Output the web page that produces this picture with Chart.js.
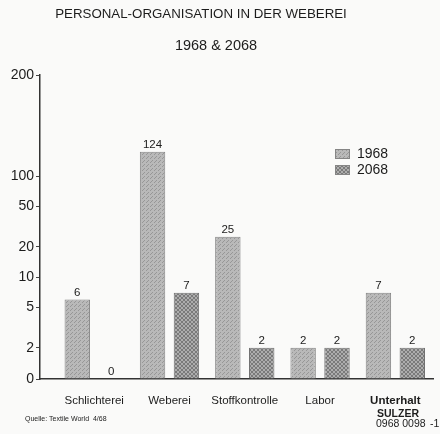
<!DOCTYPE html>
<html lang="de">
<head>
<meta charset="UTF-8">
<title>Personal-Organisation in der Weberei</title>
<script src="https://cdn.jsdelivr.net/npm/chart.js"></script>
<style>
  html, body { margin: 0; padding: 0; background: #fafaf9; }
  #wrap { width: 440px; height: 434px; }
</style>
</head>
<body>
<div id="wrap"><canvas id="personalChart" width="440" height="434"></canvas></div>
<script>
const categories = ['Schlichterei', 'Weberei', 'Stoffkontrolle', 'Labor', 'Unterhalt'];
const staff1968 = [6, 124, 25, 2, 7];
const staff2068 = [0, 7, 2, 2, 2];
const yTicks = [0, 2, 5, 10, 20, 50, 100, 200];

const FONT = '"Liberation Sans", Arial, sans-serif';
const INK = '#1c1c1c';

// y axis: linear 0-2, logarithmic 2-100, linear again above 100 (broken top)
const LOW = 0.31;
const MID = Math.log10(50);
function axisUnits(v) {
    if (v <= 2) return LOW * v / 2;
    if (v <= 100) return LOW + Math.log10(v / 2);
    return LOW + MID + (v - 100) / 100;
}
function axisValue(u) {
    if (u <= LOW) return u / LOW * 2;
    if (u <= LOW + MID) return 2 * Math.pow(10, u - LOW);
    return 100 + (u - LOW - MID) * 100;
}

class BrokenLogScale extends Chart.LinearScale {
    determineDataLimits() {
        this.min = yTicks[0];
        this.max = yTicks[yTicks.length - 1];
    }
    buildTicks() {
        return yTicks.map(value => ({ value }));
    }
    getPixelForValue(value) {
        if (value === null || isNaN(value)) return NaN;
        return this.getPixelForDecimal(axisUnits(value) / axisUnits(this.max));
    }
    getValueForPixel(pixel) {
        return axisValue(this.getDecimalForPixel(pixel) * axisUnits(this.max));
    }
}
BrokenLogScale.id = 'brokenLog';
BrokenLogScale.defaults = {};
Chart.register(BrokenLogScale);

const canvas = document.getElementById('personalChart');
const ctx = canvas.getContext('2d');

// small raster fills for the bars
function makePattern(base, ink, dots) {
    const c = document.createElement('canvas');
    c.width = 4; c.height = 4;
    const g = c.getContext('2d');
    g.fillStyle = base;
    g.fillRect(0, 0, 4, 4);
    g.fillStyle = ink;
    dots.forEach(([x, y]) => g.fillRect(x, y, 1, 1));
    return ctx.createPattern(c, 'repeat');
}
const fill1968 = makePattern('#b9b9b9', '#979797', [[0, 0], [2, 2], [3, 1]]);
const fill2068 = makePattern('#adadad', '#7a7a7a', [[0, 0], [1, 1], [2, 2], [3, 3], [3, 0], [2, 1], [1, 2], [0, 3]]);

const toPoints = arr => arr.map((y, x) => ({ x, y }));

const valueLabels = {
    id: 'valueLabels',
    afterDatasetsDraw(chart) {
        const c = chart.ctx;
        c.save();
        c.font = '11.5px ' + FONT;
        c.fillStyle = INK;
        c.textAlign = 'center';
        c.textBaseline = 'bottom';
        chart.data.datasets.forEach((ds, i) => {
            chart.getDatasetMeta(i).data.forEach((bar, j) => {
                c.fillText(String(ds.data[j].y), bar.x, bar.y - 1);
            });
        });
        c.restore();
    }
};

const legendBox = {
    id: 'legendBox',
    afterDraw(chart) {
        const c = chart.ctx;
        const a = chart.chartArea;
        const x = a.right - 98;
        let y = a.top + 79;
        c.save();
        c.font = '14px ' + FONT;
        c.textBaseline = 'middle';
        chart.data.datasets.forEach(ds => {
            c.fillStyle = ds.backgroundColor;
            c.fillRect(x, y - 5, 15, 10);
            c.strokeStyle = '#858585';
            c.lineWidth = 1;
            c.strokeRect(x + 0.5, y - 4.5, 14, 9);
            c.fillStyle = INK;
            c.fillText(ds.label, x + 22, y);
            y += 16;
        });
        c.restore();
    }
};

const captions = {
    id: 'captions',
    afterDraw(chart) {
        const c = chart.ctx;
        c.save();
        c.fillStyle = INK;
        c.textBaseline = 'middle';
        c.textAlign = 'center';
        c.font = '13.3px ' + FONT;
        c.fillText('PERSONAL-ORGANISATION IN DER WEBEREI', 201, 14);
        c.font = '14.5px ' + FONT;
        c.fillText('1968 & 2068', 216, 46);
        c.textAlign = 'left';
        c.font = '7px ' + FONT;
        c.fillText('Quelle: Textile World  4/68', 25, 419);
        c.font = 'bold 10.5px ' + FONT;
        c.fillText('SULZER', 377, 414);
        c.font = '10.5px ' + FONT;
        c.fillText('0968 0098', 376, 424);
        c.fillText('-1', 430, 424);
        c.restore();
    }
};

new Chart(ctx, {
    type: 'bar',
    data: {
        datasets: [{
            label: '1968',
            data: toPoints(staff1968),
            backgroundColor: fill1968,
            borderColor: '#858585',
            borderWidth: 1
        }, {
            label: '2068',
            data: toPoints(staff2068),
            backgroundColor: fill2068,
            borderColor: '#707070',
            borderWidth: 1
        }]
    },
    options: {
        responsive: false,
        animation: false,
        categoryPercentage: 0.9,
        barPercentage: 0.75,
        layout: { padding: { top: 75, right: 7, left: 0, bottom: 0 } },
        plugins: {
            legend: { display: false },
            tooltip: { enabled: false },
            title: { display: false }
        },
        scales: {
            x: {
                type: 'linear',
                offset: false,
                min: -0.72,
                max: 4.5,
                grid: { display: false, drawTicks: false },
                border: { display: true, color: '#333333', width: 1.5 },
                afterBuildTicks: scale => {
                    scale.ticks = categories.map((c, i) => ({ value: i }));
                },
                afterFit: scale => { scale.height = 55; },
                ticks: {
                    autoSkip: false,
                    maxRotation: 0,
                    padding: 15,
                    color: INK,
                    font: c => ({
                        family: FONT,
                        size: 11.5,
                        weight: c.index === 4 ? 'bold' : 'normal'
                    }),
                    callback: v => categories[v]
                }
            },
            y: {
                type: 'brokenLog',
                grid: { drawOnChartArea: false, drawTicks: true, tickLength: 4, color: '#444' },
                border: { display: true, color: '#333333', width: 1.5 },
                afterFit: scale => { scale.width = 40; },
                ticks: {
                    autoSkip: false,
                    padding: 2,
                    color: INK,
                    font: { family: FONT, size: 14 },
                    callback: v => String(v)
                }
            }
        }
    },
    plugins: [valueLabels, legendBox, captions]
});
</script>
</body>
</html>
